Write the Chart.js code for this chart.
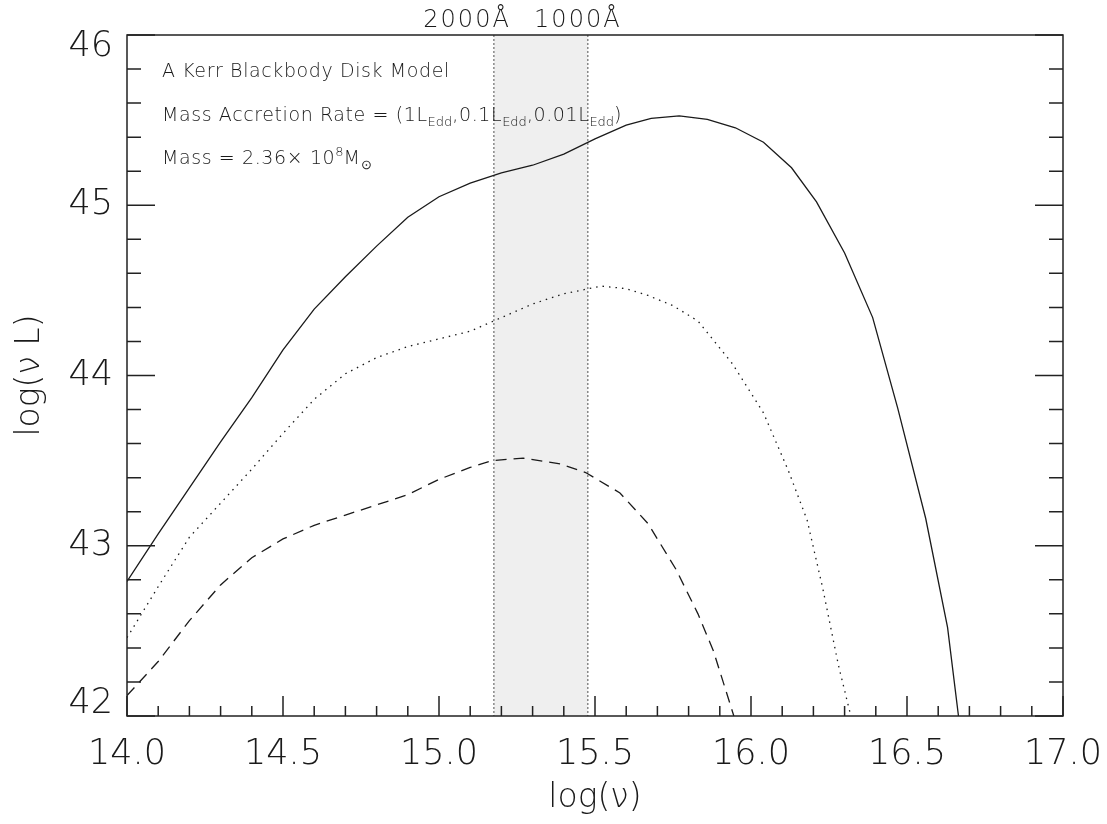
<!DOCTYPE html>
<html>
<head>
<meta charset="utf-8">
<title>Kerr disk SED</title>
<script src="https://cdn.jsdelivr.net/npm/chart.js@4.4.0/dist/chart.umd.min.js"></script>
<style>
  html, body { margin: 0; background: #fff; }
  #sed { display: block; }
</style>
</head>
<body>
<canvas id="sed" width="1107" height="824"></canvas>
<script>
// log(nu) / log(nu L) for the three accretion rates
var nuHigh  = [14.0, 14.1, 14.2, 14.3, 14.4, 14.5, 14.6, 14.7, 14.8, 14.9, 15.0, 15.1, 15.2, 15.3, 15.4, 15.5, 15.6, 15.68, 15.77, 15.86, 15.95, 16.04, 16.13, 16.21, 16.3, 16.39, 16.47, 16.56, 16.63, 16.665];
var lumHigh = [42.79, 43.07, 43.34, 43.61, 43.87, 44.15, 44.39, 44.58, 44.76, 44.93, 45.05, 45.13, 45.19, 45.235, 45.30, 45.39, 45.47, 45.51, 45.525, 45.505, 45.455, 45.37, 45.22, 45.02, 44.72, 44.34, 43.81, 43.16, 42.52, 42.0];

var nuMid  = [14.0, 14.1, 14.2, 14.3, 14.4, 14.5, 14.6, 14.7, 14.8, 14.9, 15.0, 15.1, 15.2, 15.3, 15.4, 15.52, 15.6, 15.67, 15.75, 15.83, 15.94, 16.04, 16.12, 16.18, 16.23, 16.28, 16.32];
var lumMid = [42.46, 42.76, 43.05, 43.25, 43.45, 43.66, 43.86, 44.01, 44.105, 44.17, 44.215, 44.26, 44.34, 44.42, 44.48, 44.525, 44.51, 44.47, 44.41, 44.32, 44.07, 43.78, 43.44, 43.15, 42.75, 42.3, 42.0];

var nuLow  = [14.0, 14.1, 14.2, 14.3, 14.4, 14.5, 14.6, 14.7, 14.8, 14.9, 15.0, 15.1, 15.17, 15.27, 15.39, 15.47, 15.58, 15.67, 15.76, 15.83, 15.88, 15.945];
var lumLow = [42.12, 42.32, 42.56, 42.77, 42.93, 43.04, 43.12, 43.18, 43.24, 43.30, 43.39, 43.46, 43.50, 43.515, 43.48, 43.43, 43.31, 43.13, 42.86, 42.6, 42.38, 42.0];

var xTicks = [14.0, 14.5, 15.0, 15.5, 16.0, 16.5, 17.0];
var yTicks = [42, 43, 44, 45, 46];

// UV band edges in Angstrom, and where their labels sit (log nu)
var bandWavelengths = [2000, 1000];
var bandLabels = ['2000\u00c5', '1000\u00c5'];
var bandLabelNu = [15.09, 15.445];

var notes = [
  [['A Kerr Blackbody Disk Model']],
  [['Mass Accretion Rate = (1L'], ['Edd', 'sub'], [',0.1L'], ['Edd', 'sub'], [',0.01L'], ['Edd', 'sub'], [')']],
  [['Mass = 2.36\u00d7 10'], ['8', 'sup'], ['M'], ['\u2299', 'sub']]
];

var FONT = '"DejaVu Sans", sans-serif';
var INK = '#1a1a1a';

function pts(xs, ys) {
  return xs.map(function (v, i) { return { x: v, y: ys[i] }; });
}

function lineSet(label, xs, ys, dash) {
  return {
    label: label,
    data: pts(xs, ys),
    showLine: true,
    borderColor: INK,
    borderWidth: 1.3,
    borderDash: dash,
    pointRadius: 0,
    tension: 0,
    fill: false
  };
}

function drawRich(ctx, runs, x, y) {
  runs.forEach(function (r) {
    var small = r[1] === 'sub' || r[1] === 'sup';
    ctx.font = '200 ' + (small ? 13 : 19) + 'px ' + FONT;
    ctx.letterSpacing = small ? '0px' : '0.6px';
    var dy = r[1] === 'sub' ? 5 : (r[1] === 'sup' ? -8 : 0);
    ctx.fillText(r[0], x, y + dy);
    x += ctx.measureText(r[0]).width;
  });
}

var frame = {
  id: 'frame',
  beforeDatasetsDraw: function (chart) {
    var ctx = chart.ctx, a = chart.chartArea, xs = chart.scales.x;
    var px = bandWavelengths.map(function (w) { return xs.getPixelForValue(Math.log10(2.998e18 / w)); });
    ctx.save();
    ctx.fillStyle = '#efefef';
    ctx.fillRect(px[0], a.top, px[1] - px[0], a.bottom - a.top);
    ctx.strokeStyle = '#888';
    ctx.lineWidth = 1.5;
    ctx.setLineDash([2, 2]);
    px.forEach(function (p) {
      ctx.beginPath();
      ctx.moveTo(p, a.top);
      ctx.lineTo(p, a.bottom);
      ctx.stroke();
    });
    ctx.restore();
  },
  afterDraw: function (chart) {
    var ctx = chart.ctx, a = chart.chartArea, xs = chart.scales.x, ys = chart.scales.y;
    ctx.save();
    ctx.strokeStyle = '#222';
    ctx.lineWidth = 1.5;
    ctx.strokeRect(a.left, a.top, a.right - a.left, a.bottom - a.top);

    // ticks point inward: bottom axis every 0.1, left/right every 0.2
    ctx.beginPath();
    for (var i = 0; i <= 30; i++) {
      var v = 14 + i * 0.1;
      var p = xs.getPixelForValue(v);
      var len = (i % 5 === 0) ? 20 : 10;
      ctx.moveTo(p, a.bottom);
      ctx.lineTo(p, a.bottom - len);
    }
    for (var j = 0; j <= 20; j++) {
      var w = 42 + j * 0.2;
      var q = ys.getPixelForValue(w);
      var l2 = (j % 5 === 0) ? 28 : 14;
      ctx.moveTo(a.left, q);
      ctx.lineTo(a.left + l2, q);
      ctx.moveTo(a.right, q);
      ctx.lineTo(a.right - l2, q);
    }
    ctx.stroke();

    // band labels above the frame
    ctx.fillStyle = INK;
    ctx.font = '200 24px ' + FONT;
    ctx.letterSpacing = '2px';
    ctx.textAlign = 'center';
    ctx.textBaseline = 'alphabetic';
    bandLabels.forEach(function (t, k) {
      ctx.fillText(t, xs.getPixelForValue(bandLabelNu[k]), 27);
    });

    ctx.textAlign = 'left';
    notes.forEach(function (line, k) {
      drawRich(ctx, line, a.left + 35, a.top + 42 + k * 43.5);
    });
    ctx.restore();
  }
};

var chart = new Chart(document.getElementById('sed'), {
  type: 'scatter',
  data: {
    datasets: [
      lineSet('1 LEdd', nuHigh, lumHigh, []),
      lineSet('0.1 LEdd', nuMid, lumMid, [1.5, 5]),
      lineSet('0.01 LEdd', nuLow, lumLow, [11, 7])
    ]
  },
  options: {
    responsive: false,
    animation: false,
    devicePixelRatio: 1,
    layout: { padding: { top: 35, right: 44, left: 0, bottom: 0 } },
    plugins: { legend: { display: false }, tooltip: { enabled: false } },
    scales: {
      x: {
        type: 'linear', min: 14, max: 17,
        afterFit: function (s) { s.height = 108; s.paddingLeft = 0; s.paddingRight = 0; },
        afterBuildTicks: function (s) { s.ticks = xTicks.map(function (v) { return { value: v }; }); },
        grid: { display: false, drawTicks: false },
        border: { display: false },
        ticks: {
          color: INK, padding: 18,
          font: { family: FONT, size: 35, weight: '200' },
          callback: function (v) { return v.toFixed(1); }
        },
        title: {
          display: true, text: 'log(\u03bd)', color: INK,
          font: { family: FONT, size: 33, weight: '200' },
          padding: { top: 0, bottom: 6 }
        }
      },
      y: {
        type: 'linear', min: 42, max: 46,
        afterFit: function (s) { s.width = 127; s.paddingTop = 0; s.paddingBottom = 0; },
        afterBuildTicks: function (s) { s.ticks = yTicks.map(function (v) { return { value: v }; }); },
        grid: { display: false, drawTicks: false },
        border: { display: false },
        ticks: {
          color: INK, padding: 14,
          font: { family: FONT, size: 35, weight: '200', lineHeight: '24px' },
          // keep the end labels inside the axis span
          callback: function (v) {
            if (v === yTicks[yTicks.length - 1]) return ['', String(v)];
            if (v === yTicks[0]) return [String(v), ''];
            return String(v);
          }
        },
        title: {
          display: true, text: 'log(\u03bd L)', color: INK,
          font: { family: FONT, size: 33, weight: '200' },
          padding: { top: 11, bottom: 0 }
        }
      }
    }
  },
  plugins: [frame]
});
</script>
</body>
</html>
